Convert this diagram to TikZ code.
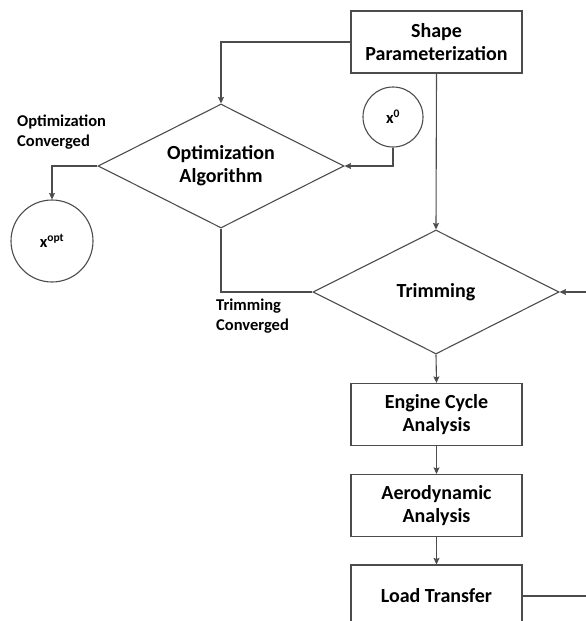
\documentclass[tikz,border=0pt]{standalone}
\usepackage{fontspec}
\setmainfont{Carlito}
\usetikzlibrary{shapes.geometric, arrows.meta}
\tikzstyle{process} = [rectangle, minimum width=171pt, minimum height=62pt, align=center, line width=1.1pt, draw=black!70, fill=white, font=\fontsize{20}{23}\selectfont\bfseries]
\tikzstyle{decision} = [diamond, aspect=2, minimum width=246pt, minimum height=124pt, inner sep=0, align=center, line width=1.1pt, draw=black!70, font=\fontsize{20}{23}\selectfont\bfseries]
\tikzstyle{state} = [circle, inner sep=0, line width=1.1pt, draw=black!70, font=\fontsize{16.5}{20}\selectfont\bfseries]
\tikzstyle{note} = [align=left, anchor=west, inner sep=0, font=\fontsize{16.5}{20}\selectfont\bfseries]
\tikzstyle{arrow} = [line width=1.1pt,->,>={Stealth[length=6.5pt,width=6pt,inset=1pt]},black!70]
\tikzstyle{link} = [line width=1.1pt,black!70]

\begin{document}
\begin{tikzpicture}[x=1pt,y=-1pt]
\useasboundingbox (0,0) rectangle (586,621);

% blocks
\node[process] (param) at (436.5,42) {Shape\\Parameterization};
\node[decision] (optalg) at (221,166) {Optimization\\Algorithm};
\node[state,minimum size=60pt] (xzero) at (393,117) {x\textsuperscript{0}};
\node[state,minimum size=82pt] (xopt) at (52,241) {x\textsuperscript{opt}};
\node[decision] (trim) at (436,292) {Trimming};
\node[process] (engine) at (436.5,414.5) {Engine Cycle\\Analysis};
\node[process] (aero) at (436.5,505.5) {Aerodynamic\\Analysis};
\node[process] (load) at (436.5,596) {Load Transfer};

% labels
\node[note] (optconv) at (17,132) {Optimization\\Converged};
\node[note] (trimconv) at (216,316) {Trimming\\Converged};

% connections
\draw[arrow] (param.west) -| (optalg.north);
\draw[arrow] (param.south) -- (trim.north);
\draw[arrow] (xzero.south) |- (optalg.east);
\draw[arrow] (optalg.west) -| (xopt.north);
\draw[link] (trim.west) -| (optalg.south);
\draw[arrow] (trim.south) -- (engine.north);
\draw[arrow] (engine) -- (aero);
\draw[arrow] (aero) -- (load);
\draw[arrow] (load.east) -- ++(80,0) |- (trim.east);
\end{tikzpicture}
\end{document}
